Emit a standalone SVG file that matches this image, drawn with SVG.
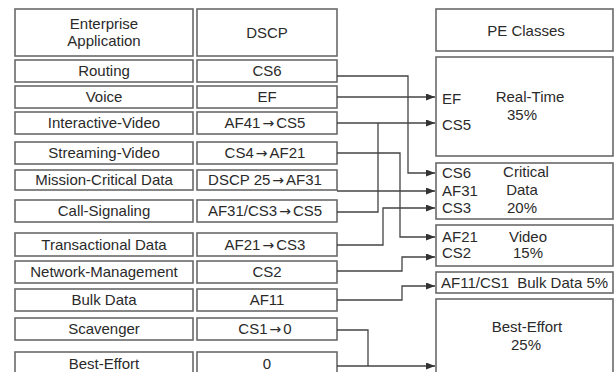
<svg xmlns="http://www.w3.org/2000/svg" width="614" height="372" viewBox="0 0 614 372">
<defs>
<marker id="ah" markerWidth="9" markerHeight="7" refX="9" refY="3.5" orient="auto" markerUnits="userSpaceOnUse">
<path d="M0,0 L9,3.5 L0,7 Z" fill="#333"/>
</marker>
<style>
rect{fill:#fff;stroke:#6a6a6a;stroke-width:1.6}
text{font-family:"Liberation Sans",Arial,sans-serif;font-size:15px;fill:#2a2a2a}
.c{text-anchor:middle}
.ar{font-family:"DejaVu Sans",sans-serif;font-size:14px}
#connectors path{fill:none;stroke:#444;stroke-width:1.3}
.a{marker-end:url(#ah)}
</style>
</defs>
<rect x="0" y="0" width="614" height="372" style="stroke:none;fill:#fff"/>
<g id="app-header"><rect x="15" y="9" width="178" height="47"/><text class="c" x="104" y="29">Enterprise</text><text class="c" x="104" y="46">Application</text></g>
<g id="dscp-header"><rect x="197" y="9" width="140" height="47"/><text class="c" x="267" y="38">DSCP</text></g>
<g id="pe-header"><rect x="436" y="9" width="177" height="42"/><text class="c" x="526" y="36">PE Classes</text></g>

<g id="app-routing"><rect x="15" y="60" width="178" height="22"/><text class="c" x="104" y="76">Routing</text></g>
<g id="dscp-routing"><rect x="197" y="60" width="140" height="22"/><text class="c" x="267" y="76">CS6</text></g>
<g id="app-voice"><rect x="15" y="86" width="178" height="22"/><text class="c" x="104" y="102">Voice</text></g>
<g id="dscp-voice"><rect x="197" y="86" width="140" height="22"/><text class="c" x="267" y="102">EF</text></g>
<g id="app-iv"><rect x="15" y="112" width="178" height="22"/><text class="c" x="104" y="128">Interactive-Video</text></g>
<g id="dscp-iv"><rect x="197" y="112" width="140" height="22"/><text class="c" x="265" y="128">AF41<tspan class="ar" dx="2">→</tspan><tspan dx="2">CS5</tspan></text></g>
<g id="app-sv"><rect x="15" y="142" width="178" height="22"/><text class="c" x="104" y="158">Streaming-Video</text></g>
<g id="dscp-sv"><rect x="197" y="142" width="140" height="22"/><text class="c" x="265" y="158">CS4<tspan class="ar" dx="2">→</tspan><tspan dx="2">AF21</tspan></text></g>
<g id="app-mc"><rect x="15" y="170" width="178" height="20"/><text class="c" x="104" y="185">Mission-Critical Data</text></g>
<g id="dscp-mc"><rect x="197" y="170" width="140" height="20"/><text class="c" x="265" y="185">DSCP 25<tspan class="ar" dx="2">→</tspan><tspan dx="2">AF31</tspan></text></g>
<g id="app-cs"><rect x="15" y="200" width="178" height="22"/><text class="c" x="104" y="216">Call-Signaling</text></g>
<g id="dscp-cs"><rect x="197" y="200" width="140" height="22"/><text class="c" x="265" y="216">AF31/CS3<tspan class="ar" dx="2">→</tspan><tspan dx="2">CS5</tspan></text></g>
<g id="app-td"><rect x="15" y="233" width="178" height="23"/><text class="c" x="104" y="250">Transactional Data</text></g>
<g id="dscp-td"><rect x="197" y="233" width="140" height="23"/><text class="c" x="265" y="250">AF21<tspan class="ar" dx="2">→</tspan><tspan dx="2">CS3</tspan></text></g>
<g id="app-nm"><rect x="15" y="261" width="178" height="22"/><text class="c" x="104" y="277">Network-Management</text></g>
<g id="dscp-nm"><rect x="197" y="261" width="140" height="22"/><text class="c" x="267" y="277">CS2</text></g>
<g id="app-bd"><rect x="15" y="289" width="178" height="22"/><text class="c" x="104" y="305">Bulk Data</text></g>
<g id="dscp-bd"><rect x="197" y="289" width="140" height="22"/><text class="c" x="267" y="305">AF11</text></g>
<g id="app-sc"><rect x="15" y="318" width="178" height="22"/><text class="c" x="104" y="334">Scavenger</text></g>
<g id="dscp-sc"><rect x="197" y="318" width="140" height="22"/><text class="c" x="265" y="334">CS1<tspan class="ar" dx="2">→</tspan><tspan dx="2">0</tspan></text></g>
<g id="app-be"><rect x="15" y="352" width="178" height="26"/><text class="c" x="104" y="369">Best-Effort</text></g>
<g id="dscp-be"><rect x="197" y="352" width="140" height="26"/><text class="c" x="267" y="369">0</text></g>

<g id="pe-realtime"><rect x="436" y="57" width="177" height="99"/><text x="442" y="104">EF</text><text x="442" y="130">CS5</text><text class="c" x="530" y="102">Real-Time</text><text class="c" x="522" y="120">35%</text></g>
<g id="pe-critical"><rect x="436" y="163" width="177" height="56"/><text x="442" y="178">CS6</text><text x="442" y="196">AF31</text><text x="442" y="213">CS3</text><text class="c" x="526" y="177">Critical</text><text class="c" x="522" y="195">Data</text><text class="c" x="522" y="213">20%</text></g>
<g id="pe-video"><rect x="436" y="225" width="177" height="41"/><text x="442" y="242">AF21</text><text x="442" y="258">CS2</text><text class="c" x="528" y="242">Video</text><text class="c" x="528" y="258">15%</text></g>
<g id="pe-bulk"><rect x="436" y="272" width="177" height="21"/><text x="441" y="288">AF11/CS1<tspan dx="4"> Bulk Data 5%</tspan></text></g>
<g id="pe-besteffort"><rect x="436" y="299" width="177" height="80"/><text class="c" x="527" y="332">Best-Effort</text><text class="c" x="526" y="350">25%</text></g>

<g id="connectors">
<path class="a" d="M337,76 H408 V173 H435"/>
<path class="a" d="M337,97 H435"/>
<path class="a" d="M337,123 H435"/>
<path d="M337,212 H378 V123"/>
<path class="a" d="M337,153 H400 V237 H435"/>
<path class="a" d="M337,191 H435"/>
<path class="a" d="M337,245 H383 V208 H435"/>
<path class="a" d="M337,271 H402 V257 H435"/>
<path class="a" d="M337,300 H402 V286 H435"/>
<path d="M337,330 H368 V366"/>
<path class="a" d="M337,366 H435"/>
</g>
</svg>
